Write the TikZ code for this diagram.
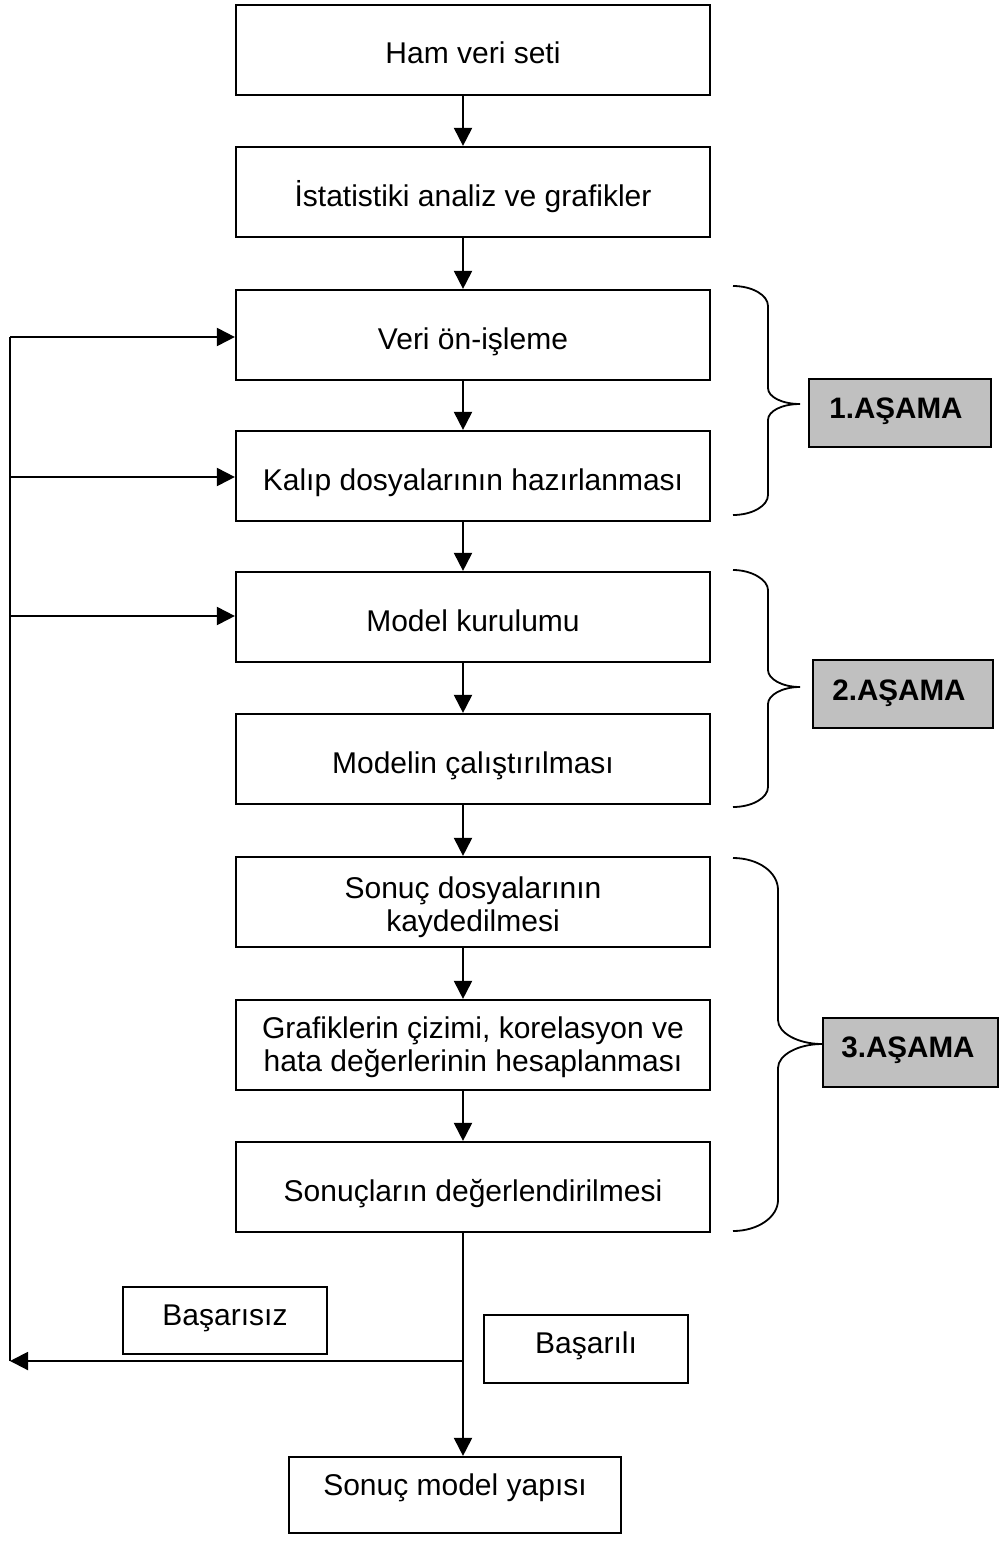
\documentclass[tikz,border=0pt]{standalone}
\usepackage{fontspec}
\setmainfont{Liberation Sans}
\usetikzlibrary{arrows.meta}
\definecolor{stagegray}{RGB}{192,192,192}
\begin{document}
\begin{tikzpicture}[x=0.5pt,y=-0.5pt,
  font=\fontsize{15}{16.5}\selectfont,
  stepbox/.style={draw, line width=1.1pt, minimum width=237pt, minimum height=45pt, inner sep=0pt},
  smallbox/.style={draw, line width=1.1pt, inner sep=0pt},
  stagebox/.style={draw, line width=1.1pt, fill=stagegray, inner sep=0pt},
  boxtext/.style={anchor=base, inner sep=0pt},
  stagetext/.style={anchor=base, inner sep=0pt, font=\fontsize{14.8}{16.5}\selectfont\bfseries},
  flow/.style={line width=1pt, -{Triangle[length=9pt,width=9pt]}},
  link/.style={line width=1pt},
  brace/.style={line width=0.9pt}
]
\useasboundingbox (0,0) rectangle (999,1541);

% main chain of steps
\node[stepbox] (ham)     at (473,50)   {};
\node[stepbox] (ist)     at (473,192)  {};
\node[stepbox] (veri)    at (473,335)  {};
\node[stepbox] (kalip)   at (473,476)  {};
\node[stepbox] (model)   at (473,617)  {};
\node[stepbox] (modelin) at (473,759)  {};
\node[stepbox] (sonuc)   at (473,902)  {};
\node[stepbox] (graf)    at (473,1045) {};
\node[stepbox] (degerl)  at (473,1187) {};

\node[boxtext] (hamT)     at (473,64)   {Ham veri seti};
\node[boxtext] (istT)     at (473,206)  {İstatistiki analiz ve grafikler};
\node[boxtext] (veriT)    at (473,349)  {Veri ön-işleme};
\node[boxtext] (kalipT)   at (473,490)  {Kalıp dosyalarının hazırlanması};
\node[boxtext] (modelT)   at (473,631)  {Model kurulumu};
\node[boxtext] (modelinT) at (473,773)  {Modelin çalıştırılması};
\node[boxtext] (sonucT)   at (473,931)  {\begin{tabular}[b]{@{}c@{}}Sonuç dosyalarının\\kaydedilmesi\end{tabular}};
\node[boxtext] (grafT)    at (473,1071) {\begin{tabular}[b]{@{}c@{}}Grafiklerin çizimi, korelasyon ve\\hata değerlerinin hesaplanması\end{tabular}};
\node[boxtext] (degerlT)  at (473,1201) {Sonuçların değerlendirilmesi};

% outcome boxes
\node[smallbox, minimum width=102pt, minimum height=33.5pt] (basarisiz) at (225,1320.5) {};
\node[smallbox, minimum width=102pt, minimum height=34pt]   (basarili)  at (586,1349) {};
\node[smallbox, minimum width=166pt, minimum height=38pt]   (sonucmodel) at (455,1495) {};
\node[boxtext] (basarisizT)  at (225,1325) {Başarısız};
\node[boxtext] (basariliT)   at (586,1353) {Başarılı};
\node[boxtext] (sonucmodelT) at (455,1495) {Sonuç model yapısı};

% stage labels
\node[stagebox, minimum width=91pt, minimum height=34pt]     (asama1) at (900,413)    {};
\node[stagebox, minimum width=90pt, minimum height=34pt]     (asama2) at (903,694)    {};
\node[stagebox, minimum width=87.5pt, minimum height=34.5pt] (asama3) at (910.5,1052.5) {};
\node[stagetext] (asama1T) at (896,418)  {1.AŞAMA};
\node[stagetext] (asama2T) at (899,700)  {2.AŞAMA};
\node[stagetext] (asama3T) at (908,1057) {3.AŞAMA};

% flow spine and feedback loop
\coordinate (spine) at (463,0);
\coordinate (L1) at (10,337);
\coordinate (L2) at (10,477);
\coordinate (L3) at (10,616);
\coordinate (Lb) at (10,1361);
\coordinate (J)  at (463,1361);

\draw[flow] (ham.south -| spine)     -- (ist.north -| spine);
\draw[flow] (ist.south -| spine)     -- (veri.north -| spine);
\draw[flow] (veri.south -| spine)    -- (kalip.north -| spine);
\draw[flow] (kalip.south -| spine)   -- (model.north -| spine);
\draw[flow] (model.south -| spine)   -- (modelin.north -| spine);
\draw[flow] (modelin.south -| spine) -- (sonuc.north -| spine);
\draw[flow] (sonuc.south -| spine)   -- (graf.north -| spine);
\draw[flow] (graf.south -| spine)    -- (degerl.north -| spine);
\draw[flow] (degerl.south -| spine)  -- (sonucmodel.north -| spine);

\draw[link] (Lb) -- (L1);
\draw[flow] (J) -- (Lb);
\draw[flow] (L1) -- (veri.west |- L1);
\draw[flow] (L2) -- (kalip.west |- L2);
\draw[flow] (L3) -- (model.west |- L3);

% curly braces grouping the stages
\draw[brace] (733,286) .. controls (752,286) and (768,295) .. (768,306)
  -- (768,388) .. controls (768,397) and (782,404) .. (800,404)
  .. controls (782,404) and (768,411) .. (768,420)
  -- (768,495) .. controls (768,506) and (752,515) .. (733,515);
\draw[brace] (733,570) .. controls (752,570) and (768,580) .. (768,590)
  -- (768,670) .. controls (768,679) and (782,687) .. (800,687)
  .. controls (782,687) and (768,695) .. (768,704)
  -- (768,787) .. controls (768,798) and (752,807) .. (733,807);
\draw[brace] (733,858) .. controls (758,858) and (778,872) .. (778,890)
  -- (778,1020) .. controls (778,1033) and (798,1044) .. (822,1044)
  .. controls (798,1044) and (778,1055) .. (778,1068)
  -- (778,1200) .. controls (778,1217) and (758,1231) .. (733,1231);
\end{tikzpicture}
\end{document}
